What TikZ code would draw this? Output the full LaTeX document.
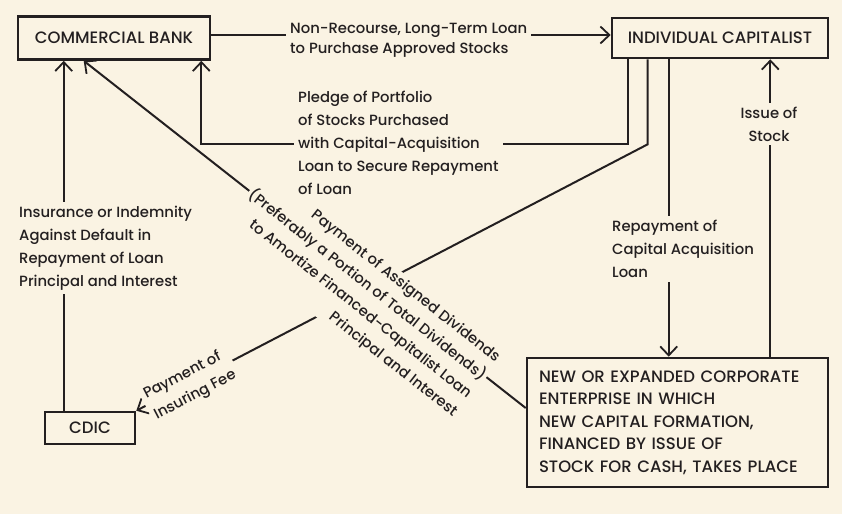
\documentclass[tikz,border=0pt]{standalone}
\usepackage{fontspec}
\setmainfont{Poppins}[UprightFont={* Medium}]
\usetikzlibrary{arrows.meta,calc}

\definecolor{paper}{RGB}{250,243,227}
\definecolor{ink}{RGB}{35,31,32}
\newcommand\boxfont{\fontsize{16.5}{22.5}\selectfont}
\newcommand\lblfont{\fontsize{14.8}{23}\selectfont}

\tikzset{
  box/.style={draw=ink, line width=2.6pt, text=ink, font=\boxfont},
  flow/.style={draw=ink, line width=2pt, -{Straight Barb[length=9pt,width=17pt,line width=1.8pt]}},
  lbl/.style={fill=paper, text=ink, inner sep=4pt, font=\lblfont},
}

\begin{document}
\begin{tikzpicture}[x=1pt,y=-1pt]
\fill[paper] (0,0) rectangle (842,514);
\useasboundingbox (0,0) rectangle (842,514);

% boxes
\node[box, minimum width=192, minimum height=43] (bank) at (114,38) {COMMERCIAL BANK};
\node[box, minimum width=216, minimum height=40] (cap) at (720,38) {INDIVIDUAL CAPITALIST};
\node[box, minimum width=90, minimum height=32] (cdic) at (90,428) {CDIC};
\node[box, text width=277, inner xsep=12, minimum height=129, align=left] (new) at (677.5,422.5)
  {NEW OR EXPANDED CORPORATE\\ENTERPRISE IN WHICH\\NEW CAPITAL FORMATION,\\FINANCED BY ISSUE OF\\STOCK FOR CASH, TAKES PLACE};

% points where the lines leave the boxes
\coordinate (ins) at ([xshift=20pt]cdic.north west);
\coordinate (rp) at ([xshift=58pt]cap.south west);
\coordinate (is) at ([xshift=-59pt]cap.south east);

% connectors
\draw[flow] ([yshift=3pt]bank.east) -- ([yshift=3pt]cap.west);
\draw[flow] ([xshift=17pt]cap.south west) -- ++(0,85) -| ([xshift=-10pt]bank.south east);
\draw[flow] ([xshift=37pt]cap.south west) -- ++(0,85) -- (cdic.north east);
\draw[flow] (rp) -- (rp |- new.north);
\draw[flow] (is |- new.north) -- (is);
\draw[flow] ([yshift=14.5pt]new.west) -- ([xshift=67pt]bank.south west);
\draw[flow] (ins) -- (ins |- bank.south);

% labels, filled so that they break the lines
\node[lbl, rotate=-38.2, align=right, anchor=east, inner sep=2pt] (div) at (478,388)
  {Payment of Assigned Dividends\\(Preferably a Portion of Total Dividends)\\to Amortize Financed-Capitalist Loan\\Principal and Interest};
\node[lbl, align=left, anchor=west, font=\fontsize{14.8}{20}\selectfont] (loan) at (286,40)
  {Non-Recourse, Long-Term Loan\\to Purchase Approved Stocks};
\node[lbl, align=left, anchor=west] (pledge) at (294,143)
  {Pledge of Portfolio\\of Stocks Purchased\\with Capital-Acquisition\\Loan to Secure Repayment\\of Loan};
\node[lbl, rotate=27.6, align=left] (fee) at (190,385) {Payment of\\Insuring Fee};
\node[lbl, align=left, anchor=west] (repay) at (608,249) {Repayment of\\Capital Acquisition\\Loan};
\node[lbl, align=center] (issue) at (769,124) {Issue of\\Stock};
\node[lbl, align=left, anchor=west] (insure) at (15,248)
  {Insurance or Indemnity\\Against Default in\\Repayment of Loan\\Principal and Interest};

\end{tikzpicture}
\end{document}
